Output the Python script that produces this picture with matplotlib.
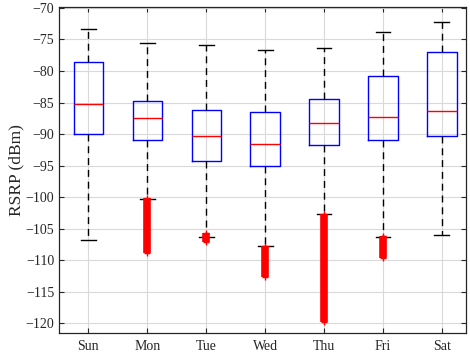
import matplotlib
matplotlib.use("Agg")
import matplotlib.pyplot as plt
import numpy as np

# Daily RSRP statistics (dBm)
days = ["Sun", "Mon", "Tue", "Wed", "Thu", "Fri", "Sat"]
upper_whisker = [-73.4, -75.5, -75.8, -76.7, -76.4, -73.8, -72.2]
q3 = [-78.6, -84.7, -86.2, -86.5, -84.5, -80.8, -77.0]
median = [-85.3, -87.5, -90.3, -91.5, -88.3, -87.25, -86.3]
q1 = [-90.0, -90.9, -94.2, -95.05, -91.8, -91.0, -90.3]
lower_whisker = [-106.8, -100.25, -106.3, -107.8, -102.6, -106.3, -106.0]
# outliers are so dense they form a red column: top / bottom of each column
outlier_top = [None, -100.1, -105.7, -107.8, -102.6, -106.2, None]
outlier_bottom = [None, -108.8, -107.1, -112.6, -119.8, -109.6, None]

plt.rcParams['font.family'] = ['Liberation Serif', 'DejaVu Serif']

fig = plt.figure(figsize=(4.7, 3.56), dpi=100)
ax = fig.add_axes([0.1255, 0.0654, 0.866, 0.9158])

stats = []
for i, d in enumerate(days):
    stats.append(dict(label=d, med=median[i], q1=q1[i], q3=q3[i],
                      whislo=lower_whisker[i], whishi=upper_whisker[i], fliers=[]))

pos = np.arange(1, len(days) + 1)
ax.bxp(stats, positions=pos, widths=0.5, showfliers=False,
       boxprops=dict(color='blue', linewidth=1.0),
       medianprops=dict(color='red', linewidth=1.0),
       whiskerprops=dict(color='black', linestyle=(0, (5, 3.5)), linewidth=1.0),
       capprops=dict(color='black', linewidth=1.0), capwidths=0.25)

# outlier columns
for p, top, bot in zip(pos, outlier_top, outlier_bottom):
    if top is None:
        continue
    ax.vlines(p, bot, top, color='red', linewidth=5.5, zorder=3)
    ax.plot([p, p], [top, bot], '+', color='red', markersize=5, mew=1, zorder=3)

ax.set_xlim(0.5, 7.41)
ax.set_ylim(-121.5, -69.8)
ax.set_yticks(np.arange(-120, -69, 5))
ax.set_xticks(pos)
ax.set_xticklabels(days)
ax.grid(True, color='#d9d9d9', linewidth=0.8)
ax.set_axisbelow(True)
ax.tick_params(direction='in', top=True, right=True, labelsize=10,
               colors='#262626', length=3.5, width=0.8)
ax.tick_params(axis='x', pad=5)
for s in ax.spines.values():
    s.set_color('#262626')
    s.set_linewidth(0.9)
ax.set_ylabel("RSRP (dBm)", fontsize=12.5, color='#262626')
ax.yaxis.set_label_coords(-0.085, 0.5)

fig.savefig("out.png", dpi=100)
